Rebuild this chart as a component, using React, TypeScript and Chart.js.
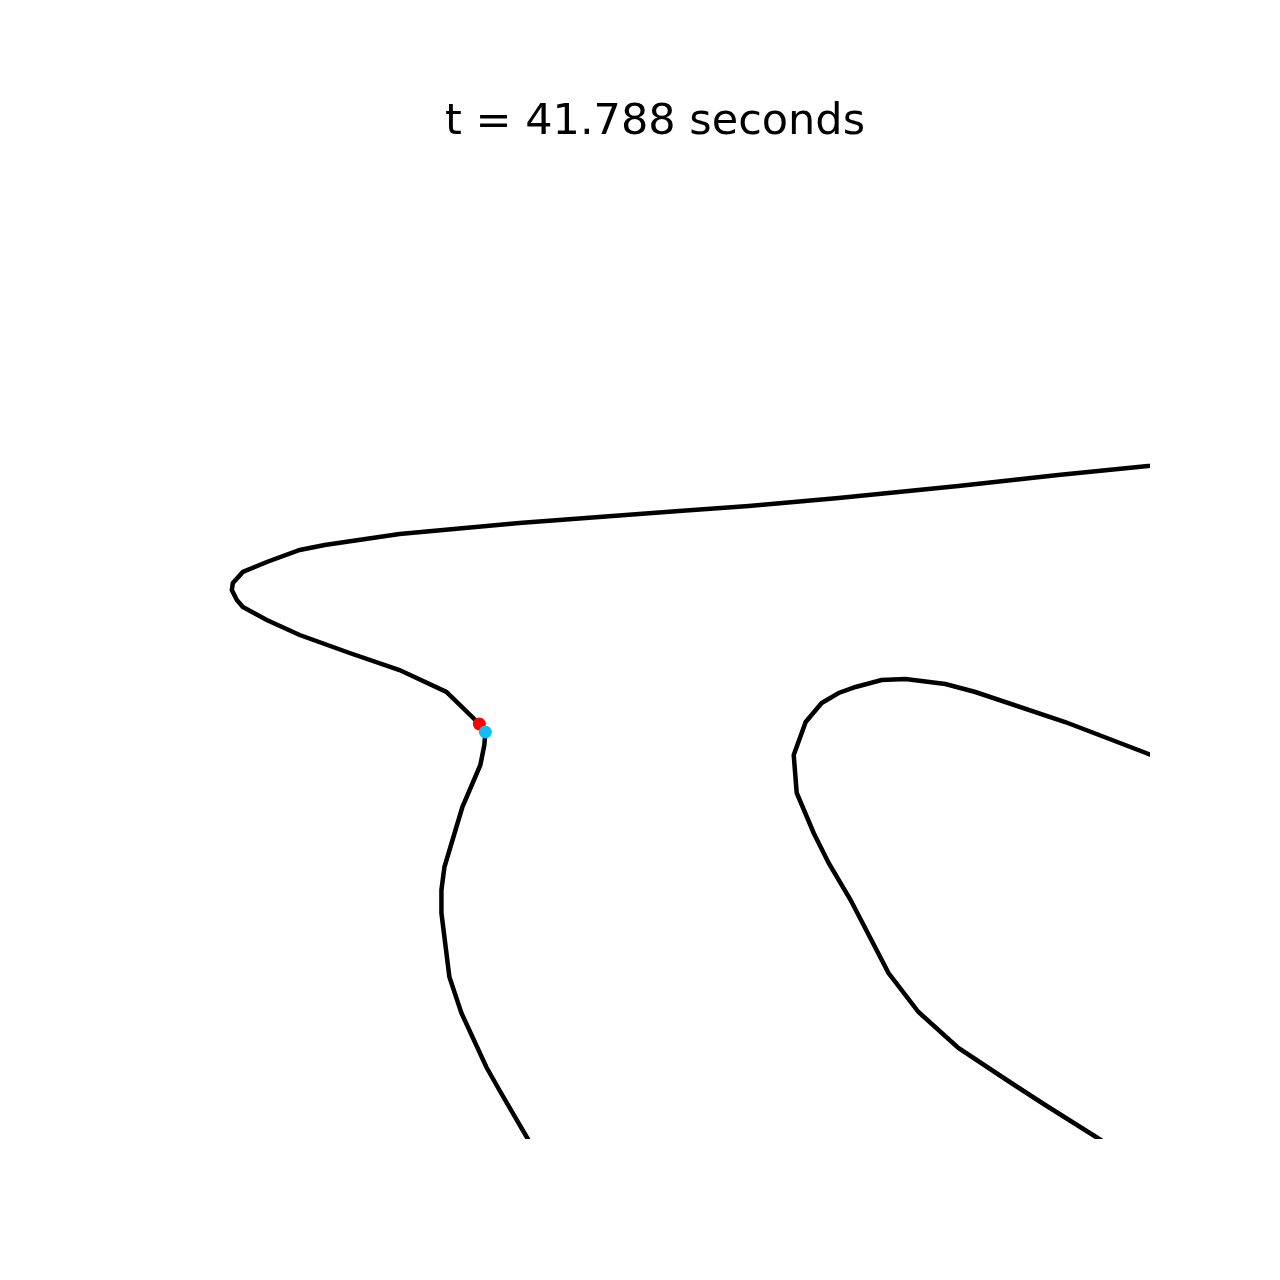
import React, { useEffect, useRef } from "react";
import { Chart, registerables } from "chart.js";

Chart.register(...registerables);

const titleText = "t = 41.788 seconds";

// Curve through the red/blue markers (data units, clipped by axis range)
const curve1X = [1040, 990, 900, 800, 680, 590, 520, 440, 360, 240, 165, 140, 107, 83, 73, 72, 77, 83, 107, 140, 190, 240, 287, 320, 326, 325, 321, 303, 297, 285, 282, 282, 290, 302, 327, 340, 368, 385];
const curve1Y = [678, 673, 664, 653, 641, 633, 628, 622, 616, 605, 594, 589, 577, 567, 556, 549, 539, 532, 519, 504, 486, 469, 447, 415, 407, 394, 374, 332, 312, 272, 249, 226, 162, 126, 72, 49, 1, -28];

// Second curve on the right
const curve2X = [1040, 988, 907, 817, 787, 747, 723, 697, 680, 663, 647, 635, 638, 655, 670, 692, 730, 760, 800, 853, 887, 938, 980];
const curve2Y = [366, 386, 417, 447, 455, 460, 459, 452, 446, 436, 417, 384, 346, 306, 276, 239, 166, 127, 91, 56, 34, 2, -25];

const redPoint = [{ x: 320, y: 415 }];
const bluePoint = [{ x: 326, y: 407 }];

const xMin = 0, xMax = 992, yMin = 0, yMax = 985;

const toPts = (xs: number[], ys: number[]) => xs.map((x, i) => ({ x, y: ys[i] }));

export default function App() {
  const ref = useRef<HTMLCanvasElement | null>(null);
  useEffect(() => {
    if (!ref.current) return;
    const chart = new Chart(ref.current, {
      type: "scatter",
      data: {
        datasets: [
          { data: bluePoint, backgroundColor: "#10bdf5", pointRadius: 6.5, pointBorderWidth: 0, showLine: false, clip: false } as any,
          { data: redPoint, backgroundColor: "#ff0000", pointRadius: 6.5, pointBorderWidth: 0, showLine: false, clip: false } as any,
          { data: toPts(curve1X, curve1Y), showLine: true, borderColor: "#000000", borderWidth: 4.5, pointRadius: 0, tension: 0, clip: 0 } as any,
          { data: toPts(curve2X, curve2Y), showLine: true, borderColor: "#000000", borderWidth: 4.5, pointRadius: 0, tension: 0, clip: 0 } as any,
        ],
      },
      options: {
        animation: false,
        responsive: false,
        devicePixelRatio: 1,
        layout: { padding: { left: 160, right: 130, top: 0, bottom: 141 } },
        scales: {
          x: { type: "linear", min: xMin, max: xMax, display: false },
          y: { type: "linear", min: yMin, max: yMax, display: false },
        },
        plugins: {
          legend: { display: false },
          tooltip: { enabled: false },
          title: {
            display: true,
            text: titleText,
            color: "#000000",
            font: { family: "'DejaVu Sans'", size: 43, weight: "normal" },
            padding: { top: 97, bottom: 5.4 },
          },
        },
      },
    });
    return () => chart.destroy();
  }, []);
  return (
    <div style={{ position: "absolute", left: 0, top: 0, width: 1280, height: 1280, background: "#fff" }}>
      <canvas ref={ref} width={1280} height={1280} />
    </div>
  );
}
